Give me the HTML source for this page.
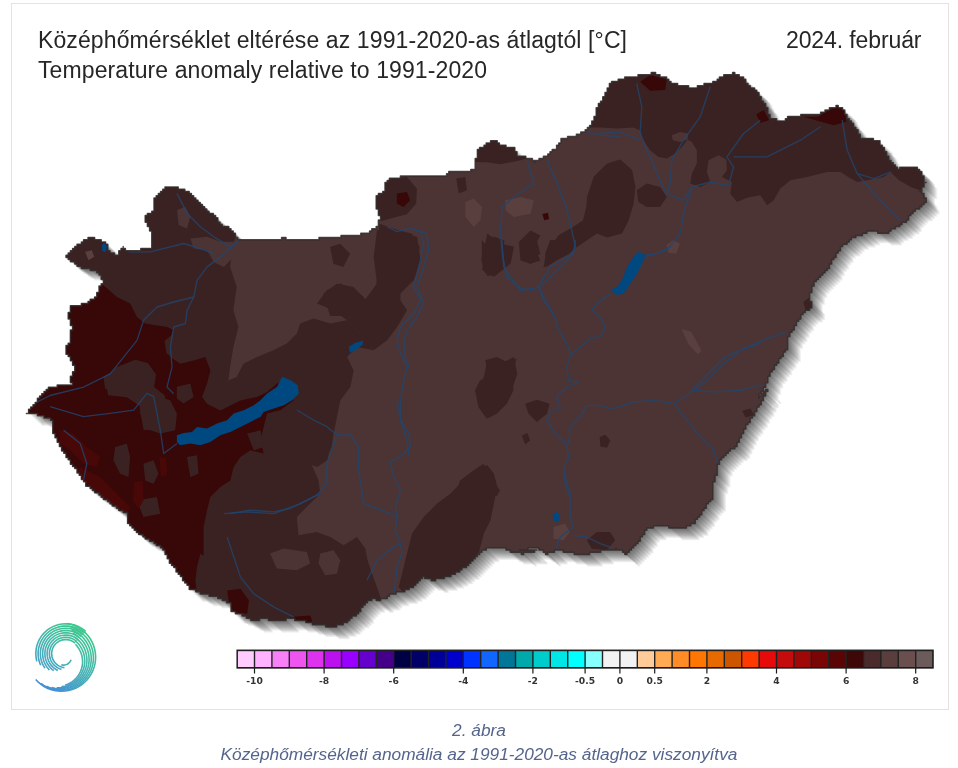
<!DOCTYPE html>
<html lang="hu"><head><meta charset="utf-8"><title>Középhőmérséklet eltérése</title>
<style>
html,body{margin:0;padding:0;background:#fff;}
body{width:958px;height:768px;overflow:hidden;position:relative;font-family:"Liberation Sans",sans-serif;}
#fig{position:absolute;left:11px;top:3px;width:936px;height:705px;border:1px solid #e3e3e3;}
svg{position:absolute;left:0;top:0;}
.t{font-family:"Liberation Sans",sans-serif;font-size:23px;fill:#262626;}
.lg{font-family:"DejaVu Sans",sans-serif;font-weight:bold;font-size:9.2px;fill:#333;text-anchor:middle;}
.cap{position:absolute;left:0;width:958px;text-align:center;font-style:italic;font-size:17.3px;color:#54648c;white-space:nowrap;}
</style></head><body>
<div id="fig"></div>
<svg width="958" height="768" viewBox="0 0 958 768">
<defs>
<linearGradient id="lgr" gradientUnits="userSpaceOnUse" x1="42" y1="692" x2="86" y2="624"><stop offset="0" stop-color="#4488dc"/><stop offset="0.3" stop-color="#46a4c4"/><stop offset="0.65" stop-color="#43bca4"/><stop offset="1" stop-color="#3ccc88"/></linearGradient>

<path id="hu" d="M66.0,257.4 L66.0,255.2 L68.2,255.2 L68.2,253.0 L70.4,253.0 L70.4,250.8 L72.6,250.8 L72.6,248.6 L74.8,248.6 L74.8,246.4 L77.0,246.4 L77.0,244.2 L79.2,244.2 L81.4,244.2 L81.4,242.0 L83.6,242.0 L83.6,239.8 L85.8,239.8 L88.0,239.8 L88.0,237.6 L90.2,237.6 L92.4,237.6 L94.6,237.6 L94.6,239.8 L96.8,239.8 L99.0,239.8 L101.2,239.8 L101.2,242.0 L103.4,242.0 L105.6,242.0 L105.6,244.2 L107.8,244.2 L107.8,246.4 L107.8,248.6 L107.8,250.8 L110.0,250.8 L110.0,253.0 L112.2,253.0 L114.4,253.0 L114.4,255.2 L116.6,255.2 L118.8,255.2 L118.8,253.0 L118.8,250.8 L121.0,250.8 L121.0,248.6 L123.2,248.6 L123.2,246.4 L123.2,248.6 L125.4,248.6 L125.4,250.8 L127.6,250.8 L129.8,250.8 L132.0,250.8 L134.2,250.8 L136.4,250.8 L138.6,250.8 L140.8,250.8 L140.8,248.6 L143.0,248.6 L145.2,248.6 L147.4,248.6 L149.6,248.6 L151.8,248.6 L151.8,246.4 L151.8,244.2 L151.8,242.0 L151.8,239.8 L151.8,237.6 L151.8,235.4 L151.8,233.2 L151.8,231.0 L149.6,231.0 L149.6,228.8 L149.6,226.6 L147.4,226.6 L147.4,224.4 L147.4,222.2 L145.2,222.2 L145.2,220.0 L145.2,217.8 L145.2,215.6 L147.4,215.6 L147.4,213.4 L149.6,213.4 L151.8,213.4 L151.8,211.2 L154.0,211.2 L154.0,209.0 L154.0,206.8 L154.0,204.6 L154.0,202.4 L154.0,200.2 L154.0,198.0 L156.2,198.0 L156.2,195.8 L158.4,195.8 L158.4,193.6 L160.6,193.6 L160.6,191.4 L162.8,191.4 L162.8,189.2 L165.0,189.2 L165.0,187.0 L167.2,187.0 L169.4,187.0 L171.6,187.0 L173.8,187.0 L176.0,187.0 L178.2,187.0 L178.2,189.2 L180.4,189.2 L182.6,189.2 L184.8,189.2 L184.8,191.4 L187.0,191.4 L189.2,191.4 L189.2,193.6 L191.4,193.6 L191.4,195.8 L193.6,195.8 L193.6,198.0 L195.8,198.0 L195.8,200.2 L198.0,200.2 L198.0,202.4 L200.2,202.4 L200.2,204.6 L202.4,204.6 L202.4,206.8 L204.6,206.8 L204.6,209.0 L206.8,209.0 L206.8,211.2 L209.0,211.2 L209.0,213.4 L211.2,213.4 L213.4,213.4 L213.4,215.6 L215.6,215.6 L215.6,217.8 L217.8,217.8 L217.8,220.0 L217.8,222.2 L220.0,222.2 L220.0,224.4 L222.2,224.4 L222.2,226.6 L224.4,226.6 L226.6,226.6 L228.8,226.6 L228.8,228.8 L231.0,228.8 L231.0,231.0 L233.2,231.0 L233.2,233.2 L235.4,233.2 L235.4,235.4 L235.4,237.6 L237.6,237.6 L237.6,239.8 L239.8,239.8 L242.0,239.8 L244.2,239.8 L246.4,239.8 L248.6,239.8 L250.8,239.8 L253.0,239.8 L255.2,239.8 L257.4,239.8 L259.6,239.8 L261.8,239.8 L264.0,239.8 L266.2,239.8 L268.4,239.8 L270.6,239.8 L272.8,239.8 L275.0,239.8 L277.2,239.8 L279.4,239.8 L281.6,239.8 L281.6,237.6 L283.8,237.6 L286.0,237.6 L286.0,239.8 L288.2,239.8 L290.4,239.8 L292.6,239.8 L294.8,239.8 L297.0,239.8 L299.2,239.8 L301.4,239.8 L303.6,239.8 L305.8,239.8 L308.0,239.8 L310.2,239.8 L312.4,239.8 L314.6,239.8 L316.8,239.8 L319.0,239.8 L319.0,237.6 L321.2,237.6 L323.4,237.6 L325.6,237.6 L327.8,237.6 L330.0,237.6 L332.2,237.6 L334.4,237.6 L336.6,237.6 L338.8,237.6 L341.0,237.6 L341.0,235.4 L343.2,235.4 L345.4,235.4 L347.6,235.4 L349.8,235.4 L352.0,235.4 L354.2,235.4 L356.4,235.4 L358.6,235.4 L360.8,235.4 L360.8,233.2 L363.0,233.2 L365.2,233.2 L367.4,233.2 L369.6,233.2 L369.6,231.0 L371.8,231.0 L371.8,228.8 L374.0,228.8 L376.2,228.8 L376.2,226.6 L378.4,226.6 L378.4,224.4 L378.4,222.2 L378.4,220.0 L380.6,220.0 L380.6,217.8 L380.6,215.6 L378.4,215.6 L378.4,213.4 L378.4,211.2 L378.4,209.0 L376.2,209.0 L376.2,206.8 L376.2,204.6 L376.2,202.4 L376.2,200.2 L376.2,198.0 L376.2,195.8 L378.4,195.8 L378.4,193.6 L380.6,193.6 L382.8,193.6 L382.8,191.4 L385.0,191.4 L385.0,189.2 L385.0,187.0 L385.0,184.8 L385.0,182.6 L387.2,182.6 L387.2,180.4 L389.4,180.4 L389.4,178.2 L391.6,178.2 L393.8,178.2 L396.0,178.2 L398.2,178.2 L400.4,178.2 L400.4,176.0 L402.6,176.0 L404.8,176.0 L407.0,176.0 L409.2,176.0 L411.4,176.0 L413.6,176.0 L415.8,176.0 L418.0,176.0 L420.2,176.0 L422.4,176.0 L424.6,176.0 L426.8,176.0 L429.0,176.0 L431.2,176.0 L433.4,176.0 L435.6,176.0 L437.8,176.0 L440.0,176.0 L442.2,176.0 L444.4,176.0 L446.6,176.0 L446.6,173.8 L448.8,173.8 L448.8,171.6 L451.0,171.6 L453.2,171.6 L455.4,171.6 L457.6,171.6 L459.8,171.6 L462.0,171.6 L464.2,171.6 L466.4,171.6 L468.6,171.6 L470.8,171.6 L470.8,169.4 L473.0,169.4 L475.2,169.4 L475.2,167.2 L475.2,165.0 L475.2,162.8 L475.2,160.6 L475.2,158.4 L477.4,158.4 L477.4,156.2 L477.4,154.0 L477.4,151.8 L477.4,149.6 L479.6,149.6 L479.6,147.4 L481.8,147.4 L484.0,147.4 L484.0,145.2 L486.2,145.2 L486.2,143.0 L488.4,143.0 L490.6,143.0 L490.6,140.8 L492.8,140.8 L495.0,140.8 L497.2,140.8 L497.2,143.0 L499.4,143.0 L499.4,145.2 L501.6,145.2 L503.8,145.2 L506.0,145.2 L506.0,147.4 L508.2,147.4 L510.4,147.4 L512.6,147.4 L514.8,147.4 L514.8,149.6 L514.8,151.8 L517.0,151.8 L517.0,154.0 L517.0,156.2 L519.2,156.2 L521.4,156.2 L523.6,156.2 L525.8,156.2 L525.8,158.4 L528.0,158.4 L530.2,158.4 L532.4,158.4 L532.4,160.6 L534.6,160.6 L534.6,162.8 L534.6,160.6 L536.8,160.6 L539.0,160.6 L539.0,158.4 L541.2,158.4 L543.4,158.4 L543.4,156.2 L545.6,156.2 L547.8,156.2 L547.8,154.0 L550.0,154.0 L550.0,151.8 L552.2,151.8 L552.2,149.6 L554.4,149.6 L556.6,149.6 L556.6,147.4 L556.6,145.2 L558.8,145.2 L558.8,143.0 L561.0,143.0 L561.0,140.8 L561.0,138.6 L563.2,138.6 L565.4,138.6 L567.6,138.6 L567.6,136.4 L569.8,136.4 L572.0,136.4 L574.2,136.4 L576.4,136.4 L576.4,134.2 L578.6,134.2 L580.8,134.2 L580.8,132.0 L583.0,132.0 L585.2,132.0 L585.2,129.8 L587.4,129.8 L587.4,127.6 L589.6,127.6 L589.6,125.4 L591.8,125.4 L591.8,123.2 L591.8,121.0 L594.0,121.0 L594.0,118.8 L594.0,116.6 L596.2,116.6 L596.2,114.4 L596.2,112.2 L596.2,110.0 L596.2,107.8 L598.4,107.8 L598.4,105.6 L598.4,103.4 L600.6,103.4 L600.6,101.2 L602.8,101.2 L602.8,99.0 L602.8,96.8 L605.0,96.8 L605.0,94.6 L605.0,92.4 L607.2,92.4 L607.2,90.2 L607.2,88.0 L609.4,88.0 L609.4,85.8 L609.4,83.6 L611.6,83.6 L609.4,83.6 L609.4,85.8 L609.4,88.0 L607.2,88.0 L607.2,90.2 L607.2,88.0 L609.4,88.0 L609.4,85.8 L609.4,83.6 L611.6,83.6 L611.6,81.4 L613.8,81.4 L616.0,81.4 L618.2,81.4 L618.2,79.2 L620.4,79.2 L622.6,79.2 L624.8,79.2 L624.8,77.0 L627.0,77.0 L629.2,77.0 L631.4,77.0 L633.6,77.0 L635.8,77.0 L638.0,77.0 L638.0,74.8 L640.2,74.8 L642.4,74.8 L644.6,74.8 L646.8,74.8 L649.0,74.8 L651.2,74.8 L651.2,72.6 L653.4,72.6 L655.6,72.6 L655.6,74.8 L657.8,74.8 L660.0,74.8 L660.0,77.0 L662.2,77.0 L664.4,77.0 L666.6,77.0 L666.6,79.2 L668.8,79.2 L668.8,81.4 L671.0,81.4 L671.0,83.6 L673.2,83.6 L675.4,83.6 L677.6,83.6 L677.6,85.8 L679.8,85.8 L682.0,85.8 L684.2,85.8 L686.4,85.8 L688.6,85.8 L688.6,88.0 L690.8,88.0 L693.0,88.0 L695.2,88.0 L697.4,88.0 L697.4,85.8 L699.6,85.8 L701.8,85.8 L704.0,85.8 L704.0,83.6 L706.2,83.6 L708.4,83.6 L710.6,83.6 L712.8,83.6 L712.8,81.4 L715.0,81.4 L717.2,81.4 L717.2,79.2 L719.4,79.2 L719.4,77.0 L721.6,77.0 L723.8,77.0 L723.8,74.8 L726.0,74.8 L728.2,74.8 L730.4,74.8 L732.6,74.8 L732.6,72.6 L734.8,72.6 L734.8,74.8 L737.0,74.8 L739.2,74.8 L739.2,77.0 L741.4,77.0 L743.6,77.0 L743.6,79.2 L745.8,79.2 L745.8,81.4 L745.8,83.6 L748.0,83.6 L748.0,85.8 L750.2,85.8 L750.2,88.0 L752.4,88.0 L754.6,88.0 L754.6,90.2 L756.8,90.2 L756.8,92.4 L759.0,92.4 L759.0,94.6 L759.0,96.8 L761.2,96.8 L761.2,99.0 L761.2,101.2 L763.4,101.2 L763.4,103.4 L765.6,103.4 L765.6,105.6 L765.6,107.8 L767.8,107.8 L767.8,110.0 L767.8,112.2 L767.8,114.4 L770.0,114.4 L770.0,116.6 L770.0,118.8 L772.2,118.8 L774.4,118.8 L776.6,118.8 L776.6,121.0 L778.8,121.0 L781.0,121.0 L783.2,121.0 L785.4,121.0 L785.4,118.8 L787.6,118.8 L787.6,116.6 L789.8,116.6 L792.0,116.6 L794.2,116.6 L796.4,116.6 L798.6,116.6 L800.8,116.6 L800.8,114.4 L803.0,114.4 L805.2,114.4 L807.4,114.4 L809.6,114.4 L811.8,114.4 L814.0,114.4 L816.2,114.4 L818.4,114.4 L820.6,114.4 L820.6,112.2 L822.8,112.2 L825.0,112.2 L825.0,110.0 L827.2,110.0 L829.4,110.0 L829.4,107.8 L831.6,107.8 L833.8,107.8 L836.0,107.8 L836.0,105.6 L838.2,105.6 L838.2,107.8 L840.4,107.8 L842.6,107.8 L842.6,110.0 L844.8,110.0 L844.8,112.2 L844.8,114.4 L847.0,114.4 L847.0,116.6 L847.0,118.8 L849.2,118.8 L849.2,121.0 L851.4,121.0 L851.4,123.2 L853.6,123.2 L853.6,125.4 L853.6,127.6 L855.8,127.6 L855.8,129.8 L858.0,129.8 L858.0,132.0 L858.0,134.2 L860.2,134.2 L860.2,136.4 L860.2,138.6 L862.4,138.6 L864.6,138.6 L866.8,138.6 L869.0,138.6 L871.2,138.6 L873.4,138.6 L873.4,140.8 L875.6,140.8 L877.8,140.8 L880.0,140.8 L880.0,143.0 L880.0,145.2 L882.2,145.2 L882.2,147.4 L884.4,147.4 L884.4,149.6 L884.4,151.8 L886.6,151.8 L886.6,154.0 L886.6,156.2 L888.8,156.2 L888.8,158.4 L888.8,160.6 L891.0,160.6 L891.0,162.8 L893.2,162.8 L893.2,165.0 L895.4,165.0 L895.4,167.2 L897.6,167.2 L897.6,169.4 L899.8,169.4 L899.8,167.2 L902.0,167.2 L904.2,167.2 L906.4,167.2 L908.6,167.2 L910.8,167.2 L913.0,167.2 L915.2,167.2 L917.4,167.2 L917.4,169.4 L919.6,169.4 L919.6,171.6 L921.8,171.6 L921.8,173.8 L921.8,176.0 L924.0,176.0 L924.0,178.2 L924.0,180.4 L924.0,182.6 L926.2,182.6 L924.0,182.6 L924.0,184.8 L924.0,187.0 L921.8,187.0 L921.8,189.2 L921.8,191.4 L919.6,191.4 L921.8,191.4 L921.8,193.6 L924.0,193.6 L924.0,195.8 L924.0,198.0 L926.2,198.0 L926.2,200.2 L926.2,202.4 L924.0,202.4 L924.0,204.6 L921.8,204.6 L921.8,206.8 L919.6,206.8 L919.6,209.0 L917.4,209.0 L915.2,209.0 L915.2,211.2 L913.0,211.2 L913.0,213.4 L910.8,213.4 L910.8,215.6 L908.6,215.6 L908.6,217.8 L908.6,220.0 L906.4,220.0 L906.4,222.2 L904.2,222.2 L902.0,222.2 L902.0,224.4 L899.8,224.4 L899.8,226.6 L897.6,226.6 L895.4,226.6 L895.4,228.8 L893.2,228.8 L891.0,228.8 L891.0,231.0 L888.8,231.0 L888.8,233.2 L886.6,233.2 L884.4,233.2 L882.2,233.2 L880.0,233.2 L877.8,233.2 L877.8,231.0 L875.6,231.0 L873.4,231.0 L871.2,231.0 L869.0,231.0 L866.8,231.0 L866.8,233.2 L864.6,233.2 L862.4,233.2 L862.4,235.4 L860.2,235.4 L858.0,235.4 L855.8,235.4 L855.8,237.6 L853.6,237.6 L851.4,237.6 L851.4,239.8 L849.2,239.8 L849.2,242.0 L847.0,242.0 L847.0,244.2 L844.8,244.2 L842.6,244.2 L842.6,246.4 L840.4,246.4 L840.4,248.6 L840.4,250.8 L838.2,250.8 L838.2,253.0 L836.0,253.0 L836.0,255.2 L836.0,257.4 L833.8,257.4 L833.8,259.6 L831.6,259.6 L831.6,261.8 L831.6,264.0 L829.4,264.0 L829.4,266.2 L829.4,268.4 L827.2,268.4 L827.2,270.6 L825.0,270.6 L825.0,272.8 L822.8,272.8 L822.8,275.0 L820.6,275.0 L820.6,277.2 L818.4,277.2 L818.4,279.4 L816.2,279.4 L816.2,281.6 L814.0,281.6 L814.0,283.8 L814.0,286.0 L811.8,286.0 L811.8,288.2 L811.8,290.4 L811.8,292.6 L809.6,292.6 L809.6,294.8 L809.6,297.0 L809.6,299.2 L809.6,301.4 L811.8,301.4 L811.8,303.6 L811.8,305.8 L811.8,308.0 L809.6,308.0 L809.6,310.2 L807.4,310.2 L805.2,310.2 L805.2,312.4 L803.0,312.4 L803.0,314.6 L800.8,314.6 L800.8,316.8 L800.8,319.0 L798.6,319.0 L798.6,321.2 L796.4,321.2 L796.4,323.4 L796.4,325.6 L794.2,325.6 L794.2,327.8 L794.2,330.0 L792.0,330.0 L792.0,332.2 L789.8,332.2 L789.8,334.4 L789.8,336.6 L787.6,336.6 L787.6,338.8 L787.6,341.0 L787.6,343.2 L787.6,345.4 L787.6,347.6 L787.6,349.8 L785.4,349.8 L785.4,352.0 L783.2,352.0 L783.2,354.2 L783.2,356.4 L781.0,356.4 L781.0,358.6 L778.8,358.6 L778.8,360.8 L778.8,363.0 L776.6,363.0 L776.6,365.2 L774.4,365.2 L774.4,367.4 L774.4,369.6 L772.2,369.6 L772.2,371.8 L770.0,371.8 L770.0,374.0 L770.0,376.2 L767.8,376.2 L767.8,378.4 L767.8,380.6 L767.8,382.8 L765.6,382.8 L765.6,385.0 L765.6,387.2 L763.4,387.2 L763.4,389.4 L763.4,391.6 L761.2,391.6 L761.2,393.8 L759.0,393.8 L759.0,396.0 L759.0,398.2 L759.0,396.0 L761.2,396.0 L761.2,393.8 L763.4,393.8 L763.4,391.6 L765.6,391.6 L765.6,389.4 L767.8,389.4 L767.8,391.6 L765.6,391.6 L765.6,393.8 L765.6,396.0 L763.4,396.0 L763.4,398.2 L763.4,400.4 L761.2,400.4 L761.2,402.6 L761.2,404.8 L759.0,404.8 L759.0,407.0 L756.8,407.0 L756.8,409.2 L756.8,411.4 L754.6,411.4 L754.6,413.6 L754.6,415.8 L752.4,415.8 L752.4,418.0 L750.2,418.0 L750.2,420.2 L750.2,422.4 L748.0,422.4 L748.0,424.6 L745.8,424.6 L745.8,426.8 L745.8,429.0 L743.6,429.0 L743.6,431.2 L743.6,433.4 L741.4,433.4 L741.4,435.6 L741.4,437.8 L739.2,437.8 L739.2,440.0 L739.2,442.2 L737.0,442.2 L737.0,444.4 L737.0,446.6 L734.8,446.6 L734.8,448.8 L732.6,448.8 L730.4,448.8 L730.4,451.0 L728.2,451.0 L728.2,453.2 L726.0,453.2 L726.0,455.4 L723.8,455.4 L723.8,457.6 L721.6,457.6 L721.6,459.8 L719.4,459.8 L719.4,462.0 L719.4,464.2 L717.2,464.2 L717.2,466.4 L717.2,468.6 L717.2,470.8 L717.2,473.0 L717.2,475.2 L715.0,475.2 L715.0,477.4 L715.0,479.6 L715.0,481.8 L712.8,481.8 L712.8,484.0 L712.8,486.2 L712.8,488.4 L712.8,490.6 L712.8,492.8 L712.8,495.0 L712.8,497.2 L712.8,499.4 L710.6,499.4 L710.6,501.6 L708.4,501.6 L708.4,503.8 L706.2,503.8 L706.2,506.0 L706.2,508.2 L704.0,508.2 L704.0,510.4 L701.8,510.4 L701.8,512.6 L701.8,514.8 L699.6,514.8 L699.6,517.0 L697.4,517.0 L697.4,519.2 L695.2,519.2 L695.2,521.4 L695.2,523.6 L693.0,523.6 L690.8,523.6 L690.8,525.8 L688.6,525.8 L686.4,525.8 L686.4,528.0 L684.2,528.0 L682.0,528.0 L679.8,528.0 L677.6,528.0 L675.4,528.0 L673.2,528.0 L671.0,528.0 L668.8,528.0 L668.8,525.8 L666.6,525.8 L664.4,525.8 L662.2,525.8 L660.0,525.8 L657.8,525.8 L655.6,525.8 L653.4,525.8 L653.4,528.0 L651.2,528.0 L649.0,528.0 L646.8,528.0 L646.8,530.2 L644.6,530.2 L644.6,532.4 L644.6,534.6 L642.4,534.6 L642.4,536.8 L640.2,536.8 L640.2,539.0 L640.2,541.2 L638.0,541.2 L638.0,543.4 L635.8,543.4 L635.8,545.6 L633.6,545.6 L633.6,547.8 L631.4,547.8 L631.4,550.0 L629.2,550.0 L629.2,552.2 L627.0,552.2 L627.0,554.4 L624.8,554.4 L624.8,552.2 L622.6,552.2 L622.6,550.0 L620.4,550.0 L618.2,550.0 L616.0,550.0 L616.0,547.8 L616.0,550.0 L613.8,550.0 L611.6,550.0 L609.4,550.0 L607.2,550.0 L605.0,550.0 L602.8,550.0 L600.6,550.0 L600.6,552.2 L598.4,552.2 L596.2,552.2 L594.0,552.2 L591.8,552.2 L589.6,552.2 L589.6,554.4 L587.4,554.4 L585.2,554.4 L583.0,554.4 L580.8,554.4 L578.6,554.4 L576.4,554.4 L574.2,554.4 L574.2,552.2 L572.0,552.2 L569.8,552.2 L567.6,552.2 L565.4,552.2 L563.2,552.2 L563.2,550.0 L561.0,550.0 L558.8,550.0 L556.6,550.0 L554.4,550.0 L554.4,552.2 L552.2,552.2 L550.0,552.2 L547.8,552.2 L547.8,554.4 L545.6,554.4 L545.6,552.2 L543.4,552.2 L543.4,550.0 L541.2,550.0 L539.0,550.0 L539.0,547.8 L536.8,547.8 L534.6,547.8 L532.4,547.8 L530.2,547.8 L528.0,547.8 L528.0,550.0 L525.8,550.0 L523.6,550.0 L521.4,550.0 L519.2,550.0 L521.4,550.0 L523.6,550.0 L525.8,550.0 L528.0,550.0 L530.2,550.0 L532.4,550.0 L534.6,550.0 L536.8,550.0 L534.6,550.0 L534.6,552.2 L532.4,552.2 L530.2,552.2 L528.0,552.2 L525.8,552.2 L523.6,552.2 L523.6,554.4 L521.4,554.4 L521.4,552.2 L519.2,552.2 L517.0,552.2 L514.8,552.2 L512.6,552.2 L510.4,552.2 L510.4,550.0 L508.2,550.0 L506.0,550.0 L506.0,547.8 L503.8,547.8 L501.6,547.8 L499.4,547.8 L497.2,547.8 L495.0,547.8 L492.8,547.8 L490.6,547.8 L488.4,547.8 L486.2,547.8 L486.2,550.0 L484.0,550.0 L481.8,550.0 L481.8,552.2 L479.6,552.2 L479.6,554.4 L477.4,554.4 L477.4,556.6 L475.2,556.6 L475.2,558.8 L473.0,558.8 L473.0,561.0 L470.8,561.0 L470.8,563.2 L468.6,563.2 L468.6,565.4 L466.4,565.4 L466.4,567.6 L464.2,567.6 L462.0,567.6 L462.0,569.8 L459.8,569.8 L459.8,572.0 L457.6,572.0 L455.4,572.0 L455.4,574.2 L453.2,574.2 L451.0,574.2 L451.0,576.4 L448.8,576.4 L446.6,576.4 L444.4,576.4 L444.4,578.6 L442.2,578.6 L440.0,578.6 L437.8,578.6 L435.6,578.6 L435.6,580.8 L433.4,580.8 L431.2,580.8 L431.2,578.6 L429.0,578.6 L426.8,578.6 L424.6,578.6 L424.6,576.4 L422.4,576.4 L422.4,578.6 L420.2,578.6 L420.2,580.8 L418.0,580.8 L418.0,583.0 L415.8,583.0 L415.8,585.2 L413.6,585.2 L413.6,587.4 L411.4,587.4 L409.2,587.4 L409.2,589.6 L407.0,589.6 L404.8,589.6 L404.8,591.8 L402.6,591.8 L400.4,591.8 L398.2,591.8 L396.0,591.8 L396.0,594.0 L393.8,594.0 L391.6,594.0 L389.4,594.0 L389.4,596.2 L387.2,596.2 L387.2,598.4 L385.0,598.4 L382.8,598.4 L380.6,598.4 L380.6,600.6 L378.4,600.6 L376.2,600.6 L376.2,598.4 L374.0,598.4 L371.8,598.4 L371.8,600.6 L369.6,600.6 L367.4,600.6 L367.4,602.8 L365.2,602.8 L365.2,605.0 L363.0,605.0 L363.0,607.2 L360.8,607.2 L360.8,609.4 L360.8,611.6 L358.6,611.6 L358.6,613.8 L356.4,613.8 L356.4,616.0 L354.2,616.0 L352.0,616.0 L352.0,618.2 L349.8,618.2 L349.8,620.4 L347.6,620.4 L347.6,622.6 L345.4,622.6 L343.2,622.6 L343.2,624.8 L341.0,624.8 L338.8,624.8 L336.6,624.8 L336.6,627.0 L334.4,627.0 L332.2,627.0 L330.0,627.0 L327.8,627.0 L325.6,627.0 L325.6,624.8 L323.4,624.8 L321.2,624.8 L319.0,624.8 L316.8,624.8 L314.6,624.8 L312.4,624.8 L312.4,622.6 L310.2,622.6 L308.0,622.6 L305.8,622.6 L305.8,620.4 L303.6,620.4 L301.4,620.4 L299.2,620.4 L297.0,620.4 L294.8,620.4 L294.8,618.2 L292.6,618.2 L290.4,618.2 L288.2,618.2 L286.0,618.2 L286.0,620.4 L283.8,620.4 L281.6,620.4 L279.4,620.4 L277.2,620.4 L275.0,620.4 L272.8,620.4 L270.6,620.4 L268.4,620.4 L268.4,618.2 L266.2,618.2 L264.0,618.2 L261.8,618.2 L259.6,618.2 L259.6,620.4 L257.4,620.4 L255.2,620.4 L253.0,620.4 L250.8,620.4 L250.8,618.2 L248.6,618.2 L246.4,618.2 L246.4,616.0 L244.2,616.0 L242.0,616.0 L242.0,613.8 L239.8,613.8 L237.6,613.8 L235.4,613.8 L235.4,611.6 L233.2,611.6 L231.0,611.6 L231.0,609.4 L231.0,607.2 L231.0,605.0 L231.0,602.8 L228.8,602.8 L226.6,602.8 L226.6,600.6 L224.4,600.6 L222.2,600.6 L222.2,598.4 L220.0,598.4 L217.8,598.4 L217.8,596.2 L215.6,596.2 L213.4,596.2 L211.2,596.2 L209.0,596.2 L209.0,594.0 L206.8,594.0 L204.6,594.0 L202.4,594.0 L200.2,594.0 L200.2,591.8 L198.0,591.8 L195.8,591.8 L195.8,589.6 L193.6,589.6 L191.4,589.6 L189.2,589.6 L189.2,587.4 L189.2,585.2 L187.0,585.2 L187.0,583.0 L184.8,583.0 L184.8,580.8 L182.6,580.8 L182.6,578.6 L182.6,576.4 L180.4,576.4 L180.4,574.2 L178.2,574.2 L178.2,572.0 L176.0,572.0 L176.0,569.8 L176.0,567.6 L173.8,567.6 L173.8,565.4 L171.6,565.4 L171.6,563.2 L169.4,563.2 L169.4,561.0 L169.4,558.8 L167.2,558.8 L167.2,556.6 L167.2,554.4 L165.0,554.4 L165.0,552.2 L165.0,550.0 L162.8,550.0 L162.8,547.8 L160.6,547.8 L160.6,545.6 L158.4,545.6 L156.2,545.6 L156.2,543.4 L154.0,543.4 L154.0,541.2 L151.8,541.2 L149.6,541.2 L149.6,539.0 L147.4,539.0 L145.2,539.0 L145.2,536.8 L143.0,536.8 L143.0,534.6 L140.8,534.6 L138.6,534.6 L138.6,532.4 L136.4,532.4 L136.4,530.2 L134.2,530.2 L134.2,528.0 L132.0,528.0 L132.0,525.8 L129.8,525.8 L129.8,523.6 L127.6,523.6 L127.6,521.4 L127.6,519.2 L127.6,517.0 L127.6,514.8 L127.6,512.6 L125.4,512.6 L123.2,512.6 L123.2,510.4 L121.0,510.4 L118.8,510.4 L118.8,508.2 L116.6,508.2 L116.6,506.0 L114.4,506.0 L112.2,506.0 L112.2,503.8 L110.0,503.8 L110.0,501.6 L107.8,501.6 L107.8,499.4 L105.6,499.4 L103.4,499.4 L103.4,497.2 L101.2,497.2 L101.2,495.0 L99.0,495.0 L99.0,492.8 L96.8,492.8 L94.6,492.8 L94.6,490.6 L92.4,490.6 L92.4,488.4 L90.2,488.4 L90.2,486.2 L88.0,486.2 L85.8,486.2 L85.8,484.0 L85.8,481.8 L83.6,481.8 L83.6,479.6 L81.4,479.6 L81.4,477.4 L81.4,475.2 L79.2,475.2 L79.2,473.0 L77.0,473.0 L77.0,470.8 L77.0,468.6 L74.8,468.6 L74.8,466.4 L72.6,466.4 L72.6,464.2 L70.4,464.2 L70.4,462.0 L70.4,459.8 L68.2,459.8 L68.2,457.6 L66.0,457.6 L66.0,455.4 L66.0,453.2 L63.8,453.2 L63.8,451.0 L61.6,451.0 L61.6,448.8 L61.6,446.6 L59.4,446.6 L59.4,444.4 L59.4,442.2 L57.2,442.2 L57.2,440.0 L57.2,437.8 L55.0,437.8 L55.0,435.6 L55.0,433.4 L52.8,433.4 L52.8,431.2 L52.8,429.0 L52.8,426.8 L52.8,424.6 L52.8,422.4 L52.8,420.2 L50.6,420.2 L50.6,418.0 L48.4,418.0 L46.2,418.0 L44.0,418.0 L44.0,415.8 L41.8,415.8 L39.6,415.8 L37.4,415.8 L37.4,413.6 L35.2,413.6 L33.0,413.6 L30.8,413.6 L28.6,413.6 L26.4,413.6 L28.6,413.6 L28.6,411.4 L28.6,409.2 L30.8,409.2 L30.8,407.0 L33.0,407.0 L33.0,404.8 L35.2,404.8 L35.2,402.6 L37.4,402.6 L37.4,400.4 L37.4,398.2 L39.6,398.2 L39.6,396.0 L41.8,396.0 L41.8,393.8 L44.0,393.8 L44.0,391.6 L46.2,391.6 L46.2,389.4 L48.4,389.4 L48.4,387.2 L50.6,387.2 L52.8,387.2 L55.0,387.2 L57.2,387.2 L57.2,385.0 L59.4,385.0 L61.6,385.0 L63.8,385.0 L66.0,385.0 L68.2,385.0 L70.4,385.0 L72.6,385.0 L72.6,382.8 L70.4,382.8 L70.4,380.6 L70.4,378.4 L70.4,376.2 L72.6,376.2 L72.6,374.0 L72.6,371.8 L74.8,371.8 L74.8,369.6 L74.8,367.4 L74.8,365.2 L72.6,365.2 L72.6,363.0 L72.6,360.8 L70.4,360.8 L70.4,358.6 L70.4,356.4 L68.2,356.4 L68.2,354.2 L66.0,354.2 L66.0,352.0 L66.0,349.8 L66.0,347.6 L66.0,345.4 L68.2,345.4 L68.2,343.2 L70.4,343.2 L70.4,341.0 L70.4,338.8 L70.4,336.6 L70.4,334.4 L70.4,332.2 L70.4,330.0 L72.6,330.0 L72.6,327.8 L72.6,325.6 L70.4,325.6 L70.4,323.4 L70.4,321.2 L70.4,319.0 L68.2,319.0 L68.2,316.8 L68.2,314.6 L68.2,312.4 L70.4,312.4 L70.4,310.2 L70.4,308.0 L70.4,305.8 L72.6,305.8 L74.8,305.8 L77.0,305.8 L79.2,305.8 L81.4,305.8 L81.4,303.6 L83.6,303.6 L85.8,303.6 L88.0,303.6 L88.0,301.4 L90.2,301.4 L90.2,299.2 L92.4,299.2 L94.6,299.2 L94.6,297.0 L96.8,297.0 L96.8,294.8 L96.8,292.6 L99.0,292.6 L99.0,290.4 L99.0,288.2 L99.0,286.0 L101.2,286.0 L101.2,283.8 L103.4,283.8 L103.4,281.6 L103.4,279.4 L101.2,279.4 L101.2,277.2 L101.2,275.0 L99.0,275.0 L99.0,272.8 L96.8,272.8 L96.8,270.6 L94.6,270.6 L92.4,270.6 L90.2,270.6 L90.2,268.4 L88.0,268.4 L85.8,268.4 L83.6,268.4 L81.4,268.4 L81.4,266.2 L79.2,266.2 L77.0,266.2 L77.0,264.0 L74.8,264.0 L74.8,261.8 L72.6,261.8 L70.4,261.8 L70.4,259.6 L68.2,259.6 L68.2,257.4 L66.0,257.4Z"/>
<clipPath id="cp"><use href="#hu"/></clipPath>
</defs>
<g fill="#000" fill-opacity="0.055">
<use href="#hu" transform="translate(0.95,0.88)"/>
<use href="#hu" transform="translate(1.90,1.76)"/>
<use href="#hu" transform="translate(2.85,2.64)"/>
<use href="#hu" transform="translate(3.80,3.52)"/>
<use href="#hu" transform="translate(4.75,4.40)"/>
<use href="#hu" transform="translate(5.70,5.28)"/>
<use href="#hu" transform="translate(6.65,6.16)"/>
<use href="#hu" transform="translate(7.60,7.04)"/>
<use href="#hu" transform="translate(8.55,7.92)"/>
<use href="#hu" transform="translate(9.50,8.80)"/>
<use href="#hu" transform="translate(10.45,9.68)"/>
<use href="#hu" transform="translate(11.40,10.56)"/>
<use href="#hu" transform="translate(12.35,11.44)"/>
<use href="#hu" transform="translate(13.30,12.32)"/>
</g>
<use href="#hu" fill="#4c3434"/>
<g clip-path="url(#cp)">
<path d="M0.0,150.0 L236.7,150.0 L236.7,233.4 L233.4,243.4 L230.1,266.8 L236.7,286.8 L233.4,310.2 L238.4,326.9 L233.4,347.0 L230.1,367.0 L228.4,380.4 L236.7,377.0 L243.4,363.7 L256.8,357.0 L273.5,350.3 L286.8,343.6 L296.9,333.6 L300.2,323.6 L313.6,318.6 L330.3,323.6 L347.0,320.3 L360.3,333.6 L373.7,350.3 L357.0,347.0 L347.0,357.0 L353.7,370.4 L350.3,387.1 L340.3,400.4 L337.0,417.1 L333.6,433.8 L330.3,455.9 L330.6,447.0 L327.2,460.3 L317.2,467.0 L311.8,465.1 L318.5,480.1 L320.2,493.5 L310.2,503.5 L296.8,516.9 L298.5,535.2 L316.8,531.9 L330.2,536.9 L343.6,545.3 L356.9,536.9 L365.3,548.6 L367.6,560.3 L372.0,573.7 L377.0,587.0 L382.0,602.0 L370.3,653.8 L230.0,653.8 L0.0,650.0Z" fill="#3b2222"/>
<path d="M316.9,303.5 L326.9,290.2 L340.3,283.5 L353.7,290.2 L363.7,296.9 L357.0,310.2 L347.0,320.3 L333.6,310.2Z" fill="#3b2222"/>
<path d="M377.0,230.1 L400.4,233.4 L417.1,236.7 L420.5,260.1 L413.8,280.2 L400.4,293.5 L400.4,300.2 L407.1,310.2 L397.1,326.9 L387.1,340.3 L373.7,350.3 L360.3,333.6 L347.0,320.3 L357.0,310.2 L367.0,296.9 L377.0,283.5 L373.7,256.8Z" fill="#3b2222"/>
<path d="M487.3,233.4 L500.6,243.4 L514.0,246.8 L510.6,263.5 L493.9,276.8 L482.3,270.1 L483.9,250.1Z" fill="#3b2222"/>
<path d="M487.3,360.3 L500.6,363.7 L514.0,357.0 L517.3,373.7 L510.6,393.7 L500.6,407.1 L490.6,417.1 L480.6,407.1 L475.6,390.4 L483.9,377.0Z" fill="#3b2222"/>
<path d="M376.8,193.6 L386.2,178.6 L406.9,176.9 L416.9,188.6 L416.2,203.6 L406.9,214.3 L393.5,217.7 L381.2,221.0 L375.2,207.0Z" fill="#3b2222"/>
<path d="M379.5,223.7 L396.9,229.7 L411.9,233.7 L419.6,247.1 L417.6,263.8 L410.9,277.1 L400.2,290.5 L390.2,301.2 L380.2,307.8 L374.2,293.8 L378.5,273.8 L383.5,257.1 L377.8,243.7Z" fill="#3b2222"/>
<path d="M473.7,161.9 L475.4,148.5 L493.7,136.8 L514.4,146.2 L532.2,156.9 L517.1,160.9 L500.4,164.2 L487.1,162.2Z" fill="#3b2222"/>
<path d="M483.0,247.1 L493.7,236.4 L504.4,240.4 L502.4,260.4 L497.1,274.4 L487.1,276.1 L481.4,260.4Z" fill="#3b2222"/>
<path d="M518.8,242.0 L530.5,230.4 L540.5,235.4 L533.8,247.1 L540.5,260.4 L530.5,263.8 L520.5,260.4Z" fill="#3b2222"/>
<path d="M323.4,293.8 L336.7,283.8 L353.4,287.1 L366.8,300.5 L360.1,315.9 L330.1,315.9Z" fill="#3b2222"/>
<path d="M330.1,247.1 L340.1,243.7 L350.1,253.7 L343.4,267.1 L333.4,263.8Z" fill="#3b2222"/>
<path d="M456.3,178.6 L465.3,176.9 L467.0,190.3 L458.7,193.6Z" fill="#3b2222"/>
<path d="M580.0,127.5 L600.0,127.5 L616.7,128.5 L633.4,127.5 L640.1,130.2 L643.4,140.2 L650.1,150.2 L658.5,156.9 L666.8,158.6 L675.2,153.6 L681.8,146.9 L687.5,139.5 L691.9,141.9 L696.9,150.2 L696.9,163.6 L691.9,173.6 L690.2,183.6 L700.2,187.0 L710.2,182.0 L706.9,171.9 L708.6,160.3 L718.6,155.2 L726.3,159.6 L726.9,170.3 L721.9,177.0 L731.9,182.0 L730.3,193.7 L737.0,202.0 L747.0,197.7 L760.3,195.3 L767.0,205.3 L773.7,200.3 L780.4,188.6 L790.4,180.3 L807.1,177.0 L827.1,171.9 L840.5,171.9 L848.9,177.6 L857.2,182.0 L867.2,180.3 L883.9,177.0 L890.6,171.9 L899.0,180.3 L910.6,187.0 L920.0,190.3 L934.0,187.0 L934.0,40.0 L580.0,40.0Z" fill="#3b2222"/>
<path d="M636.7,190.3 L646.8,183.6 L660.1,187.0 L666.8,197.0 L660.1,207.0 L646.8,207.0 L638.4,202.0Z" fill="#3b2222"/>
<path d="M485.1,360.3 L496.8,356.9 L506.8,361.9 L516.8,358.6 L511.8,373.6 L513.5,390.3 L506.8,403.7 L496.8,413.7 L486.8,418.7 L478.4,407.0 L475.1,390.3 L480.1,380.3 L490.1,377.0Z" fill="#3b2222"/>
<path d="M525.2,403.7 L536.9,399.7 L549.6,403.7 L546.9,413.7 L536.9,422.0 L528.5,413.7Z" fill="#3b2222"/>
<path d="M599.7,437.1 L605.3,434.7 L610.4,440.4 L607.0,447.8 L600.3,446.4Z" fill="#3b2222"/>
<path d="M521.8,435.4 L527.5,433.1 L530.2,440.4 L525.2,444.4Z" fill="#3b2222"/>
<path d="M460.0,480.5 L473.4,470.5 L483.4,463.8 L493.4,480.5 L500.1,490.5 L496.8,495.9 L455.0,495.9Z" fill="#3b2222"/>
<path d="M481.8,240.0 L490.1,250.0 L493.4,266.7 L485.1,273.4 L481.8,260.0Z" fill="#3b2222"/>
<path d="M520.2,240.0 L536.9,240.0 L540.2,253.4 L530.2,263.4 L521.8,256.7Z" fill="#3b2222"/>
<path d="M550.2,240.0 L577.0,240.0 L573.6,250.0 L556.9,260.0 L546.9,266.7 L545.2,253.4Z" fill="#3b2222"/>
<path d="M407.0,553.6 L412.0,533.6 L423.7,516.9 L437.1,503.5 L450.5,493.5 L463.8,480.1 L477.2,470.1 L487.2,465.1 L493.9,473.4 L497.2,486.8 L493.9,503.5 L490.5,520.2 L483.9,533.6 L478.9,551.9 L470.5,563.6 L460.5,577.0 L447.1,583.7 L433.8,587.0 L423.7,583.7 L417.1,590.4 L407.0,597.0 L398.7,587.0 L403.7,567.0Z" fill="#3b2222"/>
<path d="M803.3,302.0 L810.0,297.0 L812.4,307.0 L806.7,313.7Z" fill="#3b2222"/>
<path d="M586.8,540.3 L596.8,532.0 L610.2,532.0 L615.2,540.3 L606.8,550.3 L591.8,548.7Z" fill="#3b2222"/>
<path d="M742.1,410.7 L750.5,408.4 L753.8,415.1 L745.5,417.4Z" fill="#3b2222"/>
<path d="M587.0,196.9 L593.7,176.8 L607.0,163.5 L620.4,159.5 L632.1,170.1 L635.4,186.8 L633.7,203.5 L628.7,220.3 L622.0,233.6 L607.0,237.6 L597.0,233.6 L587.0,240.3 L577.0,247.0 L568.6,254.3 L555.2,261.0 L543.5,267.7 L546.2,252.0 L558.6,235.3 L572.9,226.9 L583.0,220.3 L586.3,206.9Z" fill="#3b2222"/>
<path d="M671.8,135.2 L680.2,131.9 L688.5,133.5 L687.5,139.5 L680.2,141.9 L672.8,140.2Z" fill="#4c3434"/>
<path d="M270.1,553.6 L283.4,548.6 L306.8,551.9 L310.2,563.6 L296.8,570.3 L276.8,568.6Z" fill="#4c3434"/>
<path d="M320.2,553.6 L333.5,550.3 L340.2,560.3 L336.9,573.7 L325.2,575.3 L318.5,563.6Z" fill="#4c3434"/>
<path d="M177.0,210.1 L185.3,206.7 L190.4,216.8 L187.0,228.5 L178.7,225.1Z" fill="#4c3434"/>
<path d="M190.4,238.5 L207.1,236.8 L220.4,241.8 L233.8,241.8 L233.8,256.8 L223.8,266.9 L213.7,261.9 L207.1,250.2 L193.7,248.5Z" fill="#4c3434"/>
<path d="M0.0,285.0 L103.5,285.2 L116.9,296.9 L130.2,303.6 L136.9,317.0 L145.3,323.6 L167.0,327.0 L173.6,330.3 L167.0,343.7 L170.3,357.0 L180.3,363.7 L193.7,360.4 L205.4,357.0 L210.4,370.4 L207.0,383.8 L202.0,397.1 L207.0,403.8 L220.4,410.5 L240.4,400.5 L257.0,396.9 L267.1,391.9 L277.1,383.5 L285.0,380.0 L293.8,400.2 L280.4,410.2 L267.0,413.6 L263.7,426.9 L260.4,440.3 L263.7,453.6 L250.4,450.3 L240.4,457.0 L233.7,467.0 L230.3,480.4 L220.3,487.0 L210.3,497.1 L207.0,510.4 L203.6,527.1 L203.6,555.8 L200.4,553.7 L197.0,567.0 L195.4,580.4 L197.0,595.0 L150.0,620.0 L0.0,620.0Z" fill="#380707"/>
<path d="M227.1,590.4 L240.5,588.8 L248.9,600.5 L247.2,613.8 L233.8,612.2 L228.8,602.1Z" fill="#380707"/>
<path d="M290.1,617.1 L310.2,615.4 L313.5,624.4 L293.5,624.4Z" fill="#380707"/>
<path d="M640.1,81.8 L650.1,75.1 L666.8,79.4 L665.1,90.1 L650.1,90.8Z" fill="#380707"/>
<path d="M756.3,114.2 L763.7,110.1 L769.0,120.2 L760.3,122.8Z" fill="#380707"/>
<path d="M803.8,116.8 L817.1,116.8 L830.5,109.5 L837.8,106.1 L844.5,110.8 L846.5,121.8 L833.8,125.2 L817.1,120.8Z" fill="#380707"/>
<path d="M396.9,193.6 L406.9,191.9 L410.2,200.3 L403.5,207.0 L396.9,203.6Z" fill="#380707"/>
<path d="M542.4,214.0 L547.9,212.7 L549.2,219.0 L544.2,220.2Z" fill="#380707"/>
<path d="M103.4,376.8 L116.8,368.5 L133.5,371.8 L140.2,383.5 L133.5,395.2 L116.8,393.5 L105.1,388.5Z" fill="#3b2222"/>
<path d="M140.2,400.2 L153.5,395.2 L170.2,400.2 L176.9,413.6 L175.2,430.3 L160.2,433.6 L145.2,428.6 L140.2,413.6Z" fill="#3b2222"/>
<path d="M176.9,386.8 L190.3,383.5 L193.6,396.9 L183.6,403.5 L176.9,398.5Z" fill="#3b2222"/>
<path d="M143.5,463.7 L153.5,460.3 L158.5,473.7 L153.5,483.7 L145.2,480.4Z" fill="#3b2222"/>
<path d="M186.9,457.0 L197.0,455.3 L198.6,473.7 L190.3,477.0Z" fill="#3b2222"/>
<path d="M115.1,447.0 L126.8,443.6 L130.1,457.0 L128.5,477.0 L120.1,473.7 L113.4,460.3Z" fill="#3b2222"/>
<path d="M247.1,433.6 L260.4,430.3 L263.8,447.0 L253.7,450.3Z" fill="#3b2222"/>
<path d="M136.8,500.4 L156.9,497.1 L160.2,513.8 L143.5,517.1Z" fill="#3b2222"/>
<path d="M106.0,382.7 L114.4,368.1 L135.3,359.8 L147.8,362.9 L156.1,374.4 L154.1,386.9 L164.5,395.3 L168.7,412.0 L162.4,429.9 L143.6,429.9 L139.4,405.7 L126.9,397.3 L108.1,395.3Z" fill="#3b2222"/>
<path d="M164.5,341.0 L174.9,332.6 L177.0,349.3 L172.8,357.7 L166.6,353.5Z" fill="#3b2222"/>
<path d="M60.0,430.3 L73.4,433.6 L86.7,447.0 L100.1,457.0 L96.7,467.0 L83.4,463.7 L70.0,450.3 L60.0,443.6Z" fill="#480808"/>
<path d="M134.2,482.0 L142.8,480.4 L143.5,500.4 L138.5,508.8 L132.8,500.4Z" fill="#480808"/>
<path d="M159.5,457.0 L166.2,457.7 L166.9,475.4 L160.9,476.4Z" fill="#480808"/>
<path d="M80.0,467.0 L100.1,477.0 L120.1,497.1 L130.1,507.1 L126.8,513.8 L106.8,500.4 L86.7,483.7 L76.7,473.7Z" fill="#480808"/>
<path d="M465.3,202.0 L473.7,198.6 L482.0,207.0 L480.4,220.3 L473.7,227.0 L465.3,217.0Z" fill="#5a3f3f"/>
<path d="M505.4,200.3 L520.5,197.0 L533.8,200.3 L530.5,213.7 L513.8,217.0 L505.4,210.3Z" fill="#5a3f3f"/>
<path d="M666.4,245.2 L673.1,240.2 L679.8,243.5 L676.4,253.5 L668.7,252.9Z" fill="#5a3f3f"/>
<path d="M681.4,328.7 L691.4,332.0 L701.5,350.4 L698.1,354.4 L688.1,343.7Z" fill="#5a3f3f"/>
<path d="M553.4,527.0 L565.1,523.6 L570.1,532.0 L563.4,540.3 L553.4,538.6Z" fill="#5a3f3f"/>
<path d="M85.1,251.8 L91.8,250.2 L94.2,256.8 L88.5,260.2Z" fill="#5a3f3f"/>
<g fill="none" stroke="#1f4670" stroke-width="1.35" stroke-opacity="0.8" stroke-linejoin="round">
<path d="M670.5,246.7 L657.1,253.4 L645.4,255.0"/>
<path d="M610.4,293.4 L597.0,303.5 L592.0,310.1 L600.3,316.8 L605.3,326.8 L600.3,336.9 L590.3,338.5 L580.3,346.9 L570.3,355.2 L566.9,366.9 L568.6,380.3 L578.6,382.0 L566.9,387.0 L556.9,397.0 L560.3,407.0 L550.2,412.0 L546.9,420.4 L555.2,433.7 L566.9,443.8 L568.6,457.1 L563.6,470.5 L565.3,483.8 L568.6,495.9"/>
<path d="M501.8,240.0 L503.5,260.0 L506.8,276.7 L520.2,288.4 L530.2,290.1 L538.5,286.8 L543.5,300.1 L553.6,313.5 L558.6,330.2 L568.6,346.9 L570.3,355.2"/>
<path d="M575.3,240.0 L573.6,253.4 L550.2,266.7 L538.5,286.8"/>
<path d="M760.0,343.5 L740.6,350.2 L723.9,363.6 L707.2,380.3 L693.9,390.3 L673.8,403.7 L653.8,400.3 L633.7,402.0 L613.7,408.7 L597.0,405.3 L587.0,405.3 L580.3,417.0 L570.3,427.1 L568.6,443.8"/>
<path d="M807.4,383.6 L760.0,385.3 L740.6,390.3 L713.9,392.0 L693.9,390.3"/>
<path d="M673.8,403.7 L687.2,420.4 L700.5,437.1 L713.9,450.4 L718.9,467.1"/>
<path d="M177.0,193.4 L187.1,213.4 L200.4,226.8 L213.8,236.8 L230.5,246.8 L238.8,240.2"/>
<path d="M238.8,240.2 L220.5,256.9 L207.1,266.9 L197.1,280.3 L193.7,297.0 L173.7,302.0 L157.0,307.0 L143.6,320.3 L137.0,340.4 L123.6,357.1 L110.2,373.8 L83.5,387.1 L50.1,395.5 L33.4,403.8"/>
<path d="M193.7,297.0 L187.1,310.3 L185.4,323.7 L173.7,327.0 L170.4,347.1 L172.0,367.1 L167.0,387.1 L173.7,393.8"/>
<path d="M128.6,251.9 L150.3,251.9 L183.7,243.5 L200.4,248.5 L213.8,253.5"/>
<path d="M387.1,226.7 L397.1,231.7 L410.4,228.4 L420.5,231.7 L423.8,243.4 L420.5,260.1 L417.1,273.5 L413.8,286.8 L420.5,300.2 L413.8,313.6 L400.4,326.9 L397.1,340.3 L400.4,353.7 L407.1,367.0 L403.8,380.4 L400.4,400.4 L400.4,420.5 L407.1,440.5 L408.8,455.9"/>
<path d="M410.4,228.4 L427.1,233.4 L428.8,250.1 L423.8,266.8 L417.1,286.8 L423.8,303.5 L417.1,316.9 L407.1,330.3 L403.8,343.6 L405.4,357.0 L408.8,367.0"/>
<path d="M397.0,400.0 L400.4,420.0 L408.7,433.4 L410.4,446.7 L400.4,456.7 L390.3,461.8 L393.7,476.8 L400.4,490.1 L395.3,506.8 L397.0,516.9 L395.3,530.2 L400.4,543.6 L402.0,553.6 L397.0,567.0 L395.3,583.7 L393.7,593.7"/>
<path d="M336.9,435.0 L350.3,435.0 L358.6,446.7 L358.6,470.1 L361.9,490.1 L363.6,503.5 L377.0,508.5 L390.3,513.5 L397.0,516.9"/>
<path d="M230.0,513.5 L250.0,510.2 L273.4,511.9 L290.1,508.5 L303.5,501.8 L316.8,495.2 L326.9,483.5 L326.9,463.4 L336.9,435.0 L326.9,426.7 L313.5,420.0 L296.8,410.0"/>
<path d="M367.0,580.3 L377.0,560.3 L393.7,546.9 L400.4,543.6"/>
<path d="M50.1,406.7 L83.5,416.7 L110.2,413.4 L133.6,410.1 L147.0,393.4 L153.7,396.7 L160.3,430.1 L163.7,453.5 L177.0,443.5"/>
<path d="M63.5,430.1 L80.2,443.5 L86.8,463.5 L83.5,480.2"/>
<path d="M223.8,513.6 L247.2,511.9 L273.9,513.6 L300.6,503.6 L320.0,493.6"/>
<path d="M227.1,537.0 L233.8,557.0 L240.5,577.1 L253.9,593.8 L273.9,607.1 L293.9,617.2"/>
<path d="M636.7,83.4 L641.8,106.8 L640.1,133.5 L650.1,156.9 L660.1,180.3 L666.8,193.7 L683.5,200.3 L691.9,187.0 L710.2,182.0 L728.6,185.3 L733.6,166.9 L726.9,156.9 L743.6,133.5 L760.3,120.2"/>
<path d="M600.0,133.5 L620.0,131.9 L640.1,140.2"/>
<path d="M710.2,86.8 L700.2,116.8 L683.5,140.2 L671.8,160.3 L670.1,183.6 L666.8,193.7"/>
<path d="M733.6,156.9 L767.0,156.9 L800.4,140.2 L820.5,126.8"/>
<path d="M842.2,120.2 L847.2,150.2 L857.2,173.6 L877.2,197.0 L900.6,220.4"/>
<path d="M857.2,173.6 L873.9,178.6 L890.6,171.9"/>
<path d="M691.9,187.0 L683.5,213.7 L680.2,233.7 L666.8,250.4 L643.4,257.1"/>
<path d="M587.3,131.8 L600.6,135.2 L620.0,136.8"/>
<path d="M527.1,160.2 L533.8,183.6 L513.8,197.0 L502.1,207.0 L500.4,233.7 L503.8,267.1 L520.5,290.5 L538.8,287.1 L553.9,273.8 L567.2,260.4 L575.6,247.1 L567.2,210.3 L557.2,183.6 L547.2,160.2"/>
<path d="M538.8,287.1 L547.2,303.8 L553.9,315.9"/>
<path d="M563.4,470.2 L570.1,493.5 L570.1,516.9 L573.4,527.0 L560.1,537.0 L556.7,547.0 L553.4,557.0"/>
<path d="M573.4,535.3 L586.8,537.0 L600.2,543.7 L610.2,547.0"/>
<path d="M691.4,390.5 L724.8,357.1 L754.9,343.7 L785.0,332.0"/>
</g>
<path d="M176.9,435.3 L183.6,432.9 L191.9,431.9 L197.0,426.9 L207.0,428.6 L217.0,423.6 L227.0,420.3 L233.7,413.6 L243.7,410.2 L253.7,405.2 L260.4,400.2 L267.1,393.5 L277.1,386.8 L282.1,376.8 L290.5,380.2 L297.8,385.2 L298.8,393.5 L292.2,400.2 L283.8,405.2 L273.8,408.6 L263.8,411.9 L260.4,416.9 L250.4,421.9 L240.4,426.9 L230.4,431.9 L220.3,435.3 L210.3,442.0 L200.3,445.3 L190.3,443.6 L180.3,445.3 L176.9,442.0Z" fill="#004880"/>
<path d="M348.9,346.8 L355.6,342.8 L363.3,340.8 L362.3,345.1 L355.6,350.1 L349.9,352.8Z" fill="#004880"/>
<path d="M610.4,290.1 L617.0,286.8 L622.0,280.1 L627.1,266.7 L633.7,256.7 L638.7,251.7 L645.4,255.0 L642.1,263.4 L637.1,273.4 L630.4,283.4 L623.7,293.4 L617.0,295.1Z" fill="#004880"/>
<path d="M101.9,245.2 L104.2,242.8 L106.9,246.2 L105.6,251.9 L102.2,250.9Z" fill="#004880"/>
<path d="M552.7,514.3 L556.7,511.9 L560.1,516.3 L558.1,521.9 L553.4,520.9Z" fill="#004880"/>
</g>
<use href="#hu" fill="none" stroke="#322c2c" stroke-width="1.5" stroke-opacity="0.85" stroke-linejoin="round"/>
<text class="t" x="38" y="47.5" textLength="589" lengthAdjust="spacing">Középhőmérséklet eltérése az 1991-2020-as átlagtól [°C]</text>
<text class="t" x="38" y="77.7" textLength="449" lengthAdjust="spacing">Temperature anomaly relative to 1991-2020</text>
<text class="t" x="786" y="47.5" textLength="135.5" lengthAdjust="spacing">2024. február</text>
<g>
<rect x="237.1" y="650.2" width="696.0" height="17.8" fill="#222"/>
<rect x="237.80" y="651.2" width="16.00" height="15.8" fill="#ffccff"/>
<rect x="255.20" y="651.2" width="16.00" height="15.8" fill="#ffb3ff"/>
<rect x="272.60" y="651.2" width="16.00" height="15.8" fill="#f780f7"/>
<rect x="290.00" y="651.2" width="16.00" height="15.8" fill="#ee55ee"/>
<rect x="307.40" y="651.2" width="16.00" height="15.8" fill="#dd33ee"/>
<rect x="324.80" y="651.2" width="16.00" height="15.8" fill="#bb11ee"/>
<rect x="342.20" y="651.2" width="16.00" height="15.8" fill="#9900ff"/>
<rect x="359.60" y="651.2" width="16.00" height="15.8" fill="#6600cc"/>
<rect x="377.00" y="651.2" width="16.00" height="15.8" fill="#440088"/>
<rect x="394.40" y="651.2" width="16.00" height="15.8" fill="#000044"/>
<rect x="411.80" y="651.2" width="16.00" height="15.8" fill="#000066"/>
<rect x="429.20" y="651.2" width="16.00" height="15.8" fill="#000099"/>
<rect x="446.60" y="651.2" width="16.00" height="15.8" fill="#0000cc"/>
<rect x="464.00" y="651.2" width="16.00" height="15.8" fill="#0033ff"/>
<rect x="481.40" y="651.2" width="16.00" height="15.8" fill="#1166ff"/>
<rect x="498.80" y="651.2" width="16.00" height="15.8" fill="#007799"/>
<rect x="516.20" y="651.2" width="16.00" height="15.8" fill="#00aaaa"/>
<rect x="533.60" y="651.2" width="16.00" height="15.8" fill="#00cccc"/>
<rect x="551.00" y="651.2" width="16.00" height="15.8" fill="#00e6e6"/>
<rect x="568.40" y="651.2" width="16.00" height="15.8" fill="#00ffff"/>
<rect x="585.80" y="651.2" width="16.00" height="15.8" fill="#88ffff"/>
<rect x="603.20" y="651.2" width="16.00" height="15.8" fill="#f2f2f2"/>
<rect x="620.60" y="651.2" width="16.00" height="15.8" fill="#f2f2f2"/>
<rect x="638.00" y="651.2" width="16.00" height="15.8" fill="#ffcc99"/>
<rect x="655.40" y="651.2" width="16.00" height="15.8" fill="#ffaa55"/>
<rect x="672.80" y="651.2" width="16.00" height="15.8" fill="#ff8c26"/>
<rect x="690.20" y="651.2" width="16.00" height="15.8" fill="#ff7700"/>
<rect x="707.60" y="651.2" width="16.00" height="15.8" fill="#e66a00"/>
<rect x="725.00" y="651.2" width="16.00" height="15.8" fill="#cc5500"/>
<rect x="742.40" y="651.2" width="16.00" height="15.8" fill="#ff3a00"/>
<rect x="759.80" y="651.2" width="16.00" height="15.8" fill="#e60a0a"/>
<rect x="777.20" y="651.2" width="16.00" height="15.8" fill="#c40c0c"/>
<rect x="794.60" y="651.2" width="16.00" height="15.8" fill="#a00808"/>
<rect x="812.00" y="651.2" width="16.00" height="15.8" fill="#7a0505"/>
<rect x="829.40" y="651.2" width="16.00" height="15.8" fill="#5a0505"/>
<rect x="846.80" y="651.2" width="16.00" height="15.8" fill="#3f0808"/>
<rect x="864.20" y="651.2" width="16.00" height="15.8" fill="#4a2a2a"/>
<rect x="881.60" y="651.2" width="16.00" height="15.8" fill="#5a3d3d"/>
<rect x="899.00" y="651.2" width="16.00" height="15.8" fill="#6b4f4f"/>
<rect x="916.40" y="651.2" width="16.00" height="15.8" fill="#6b5b5b"/>
<rect x="237.1" y="650.2" width="696.0" height="17.8" fill="none" stroke="#1a1a1a" stroke-width="1.3"/>
<line x1="254.5" y1="668.0" x2="254.5" y2="673.5" stroke="#1a1a1a" stroke-width="1.2"/>
<text class="lg" x="254.5" y="684.3">-10</text>
<line x1="324.1" y1="668.0" x2="324.1" y2="673.5" stroke="#1a1a1a" stroke-width="1.2"/>
<text class="lg" x="324.1" y="684.3">-8</text>
<line x1="393.7" y1="668.0" x2="393.7" y2="673.5" stroke="#1a1a1a" stroke-width="1.2"/>
<text class="lg" x="393.7" y="684.3">-6</text>
<line x1="463.3" y1="668.0" x2="463.3" y2="673.5" stroke="#1a1a1a" stroke-width="1.2"/>
<text class="lg" x="463.3" y="684.3">-4</text>
<line x1="532.9" y1="668.0" x2="532.9" y2="673.5" stroke="#1a1a1a" stroke-width="1.2"/>
<text class="lg" x="532.9" y="684.3">-2</text>
<line x1="585.1" y1="668.0" x2="585.1" y2="673.5" stroke="#1a1a1a" stroke-width="1.2"/>
<text class="lg" x="585.1" y="684.3">-0.5</text>
<line x1="619.9" y1="668.0" x2="619.9" y2="673.5" stroke="#1a1a1a" stroke-width="1.2"/>
<text class="lg" x="619.9" y="684.3">0</text>
<line x1="654.7" y1="668.0" x2="654.7" y2="673.5" stroke="#1a1a1a" stroke-width="1.2"/>
<text class="lg" x="654.7" y="684.3">0.5</text>
<line x1="706.9" y1="668.0" x2="706.9" y2="673.5" stroke="#1a1a1a" stroke-width="1.2"/>
<text class="lg" x="706.9" y="684.3">2</text>
<line x1="776.5" y1="668.0" x2="776.5" y2="673.5" stroke="#1a1a1a" stroke-width="1.2"/>
<text class="lg" x="776.5" y="684.3">4</text>
<line x1="846.1" y1="668.0" x2="846.1" y2="673.5" stroke="#1a1a1a" stroke-width="1.2"/>
<text class="lg" x="846.1" y="684.3">6</text>
<line x1="915.7" y1="668.0" x2="915.7" y2="673.5" stroke="#1a1a1a" stroke-width="1.2"/>
<text class="lg" x="915.7" y="684.3">8</text>
</g>
<g fill="none" stroke="url(#lgr)" stroke-width="1.6" stroke-linecap="butt">
<path d="M64.49,667.63 L63.03,667.42 L61.59,667.06 L60.21,666.55 L58.88,665.90 L57.62,665.12 L56.46,664.20 L55.40,663.17 L54.45,662.03 L53.63,660.80 L52.94,659.49 L52.40,658.12 L52.00,656.70 L51.75,655.24 L51.65,653.76 L51.72,652.28 L51.93,650.82 L52.30,649.39 L52.82,648.00 L53.48,646.68 L54.28,645.43 L55.20,644.27 L56.24,643.22 L57.38,642.28 L58.62,641.47 L59.93,640.79 L61.31,640.25 L62.74,639.86 L64.20,639.63 L65.67,639.54 L67.15,639.62 L68.61,639.84 L70.04,640.22 L71.42,640.75 L72.74,641.42 L73.98,642.23 L75.13,643.16"/>
<path d="M61.49,669.38 L59.85,668.85 L58.26,668.14 L56.76,667.26 L55.37,666.24 L54.09,665.07 L52.94,663.77 L51.93,662.36 L51.08,660.84 L50.40,659.25 L49.89,657.59 L49.55,655.89 L49.40,654.16 L49.43,652.43 L49.65,650.71 L50.05,649.02 L50.63,647.39 L51.37,645.82 L52.28,644.34 L53.34,642.97 L54.54,641.71 L55.86,640.60 L57.30,639.62 L58.83,638.81 L60.44,638.16 L62.10,637.69 L63.81,637.39 L65.54,637.28 L67.28,637.36 L68.99,637.61 L70.67,638.05 L72.29,638.66 L73.84,639.44 L75.30,640.39 L76.65,641.48"/>
<path d="M57.86,670.46 L56.10,669.52 L54.45,668.40 L52.93,667.10 L51.56,665.65 L50.35,664.06 L49.32,662.36 L48.47,660.55 L47.83,658.66 L47.39,656.71 L47.16,654.73 L47.15,652.73 L47.35,650.74 L47.77,648.79 L48.39,646.89 L49.21,645.07 L50.22,643.35 L51.41,641.75 L52.76,640.28 L54.27,638.97 L55.90,637.82 L57.65,636.86 L59.50,636.09 L61.41,635.53 L63.37,635.17 L65.37,635.02 L67.36,635.09 L69.34,635.38 L71.27,635.87 L73.14,636.57 L74.93,637.46 L76.61,638.54 L78.16,639.80"/>
<path d="M53.76,670.69 L52.03,669.34 L50.46,667.81 L49.05,666.13 L47.82,664.31 L46.80,662.37 L45.98,660.33 L45.39,658.22 L45.01,656.06 L44.87,653.87 L44.96,651.68 L45.28,649.51 L45.82,647.38 L46.59,645.32 L47.56,643.36 L48.74,641.51 L50.11,639.79 L51.65,638.23 L53.34,636.83 L55.17,635.62 L57.12,634.62 L59.17,633.82 L61.28,633.24 L63.45,632.88 L65.64,632.76 L67.83,632.87 L70.00,633.20 L72.12,633.77 L74.17,634.55 L76.13,635.54 L77.97,636.74 L79.67,638.12"/>
<path d="M49.38,669.95 L47.73,668.12 L46.29,666.13 L45.07,663.99 L44.09,661.74 L43.34,659.39 L42.86,656.98 L42.63,654.53 L42.66,652.07 L42.96,649.62 L43.51,647.23 L44.31,644.90 L45.36,642.67 L46.64,640.57 L48.13,638.62 L49.83,636.83 L51.70,635.24 L53.73,633.85 L55.90,632.69 L58.18,631.76 L60.55,631.09 L62.97,630.66 L65.43,630.50 L67.89,630.60 L70.32,630.96 L72.70,631.58 L75.01,632.45 L77.20,633.55 L79.27,634.89 L81.19,636.44"/>
<path d="M44.94,668.16 L43.49,665.84 L42.30,663.37 L41.39,660.79 L40.75,658.13 L40.41,655.41 L40.37,652.68 L40.61,649.95 L41.15,647.27 L41.98,644.66 L43.08,642.15 L44.45,639.78 L46.06,637.57 L47.91,635.54 L49.96,633.73 L52.19,632.15 L54.58,630.81 L57.10,629.75 L59.73,628.96 L62.42,628.45 L65.15,628.24 L67.88,628.33 L70.59,628.71 L73.25,629.38 L75.82,630.33 L78.26,631.56 L80.57,633.04 L82.70,634.76"/>
<path d="M40.68,665.29 L39.59,662.59 L38.79,659.79 L38.29,656.92 L38.09,654.02 L38.20,651.11 L38.62,648.23 L39.33,645.41 L40.34,642.68 L41.63,640.07 L43.19,637.61 L45.00,635.33 L47.04,633.25 L49.28,631.40 L51.71,629.79 L54.30,628.45 L57.01,627.39 L59.81,626.62 L62.68,626.14 L65.59,625.98 L68.50,626.12 L71.38,626.56 L74.19,627.31 L76.91,628.34 L79.51,629.66 L81.95,631.24 L84.21,633.08"/>
<path d="M36.85,661.35 L36.18,658.22 L35.86,655.05 L35.88,651.85 L36.24,648.68 L36.93,645.56 L37.95,642.53 L39.30,639.63 L40.94,636.89 L42.86,634.35 L45.05,632.02 L47.47,629.93 L50.10,628.12 L52.91,626.60 L55.87,625.39 L58.93,624.50 L62.08,623.94 L65.26,623.72 L68.46,623.84 L71.62,624.30 L74.71,625.10 L77.70,626.22 L80.56,627.66 L83.24,629.39 L85.72,631.39"/>
<path d="M71.09,659.70 L70.75,660.50 L70.32,661.26 L69.82,661.97 L69.25,662.62 L68.61,663.21 L67.91,663.73 L67.17,664.17 L66.37,664.53 L65.55,664.81 L64.70,664.99 L63.84,665.09 L62.97,665.09 L62.10,665.00 L61.25,664.82"/>
<path d="M75.42,644.31 L77.19,646.29 L78.74,648.45 L80.05,650.76 L81.10,653.20 L81.88,655.73 L82.37,658.34 L82.59,660.99 L82.52,663.64 L82.16,666.27 L81.51,668.85 L80.60,671.34 L79.42,673.71 L77.98,675.95 L76.32,678.02 L74.44,679.89 L72.37,681.55 L70.13,682.98 L67.75,684.16 L65.26,685.07"/>
<path d="M75.09,640.60 L77.17,642.47 L79.03,644.56 L80.66,646.83 L82.03,649.26 L83.14,651.82 L83.97,654.49 L84.51,657.23 L84.75,660.02 L84.70,662.81 L84.34,665.58 L83.69,668.30 L82.76,670.93 L81.54,673.45 L80.07,675.83 L78.35,678.03 L76.41,680.04 L74.26,681.82 L71.93,683.37 L69.45,684.66 L66.85,685.68 L64.15,686.41 L61.39,686.85"/>
<path d="M74.32,636.90 L76.70,638.63 L78.88,640.60 L80.84,642.79 L82.55,645.18 L84.00,647.73 L85.18,650.42 L86.06,653.23 L86.64,656.11 L86.91,659.03 L86.88,661.97 L86.53,664.89 L85.87,667.75 L84.91,670.53 L83.67,673.19 L82.15,675.71 L80.37,678.05 L78.35,680.19 L76.12,682.10 L73.70,683.76 L71.11,685.16 L68.40,686.28 L65.58,687.11 L62.68,687.63 L59.75,687.84 L56.82,687.74"/>
<path d="M73.10,633.27 L75.78,634.81 L78.27,636.63 L80.56,638.70 L82.62,641.00 L84.43,643.50 L85.96,646.18 L87.21,649.00 L88.15,651.94 L88.77,654.96 L89.08,658.03 L89.06,661.12 L88.71,664.18 L88.05,667.20 L87.07,670.13 L85.79,672.93 L84.22,675.59 L82.38,678.07 L80.29,680.34 L77.97,682.38 L75.45,684.16 L72.76,685.67 L69.92,686.89 L66.98,687.80 L63.95,688.40 L60.88,688.67 L57.79,688.62 L54.73,688.25 L51.72,687.56"/>
<path d="M71.44,629.77 L74.40,631.09 L77.20,632.71 L79.82,634.61 L82.22,636.77 L84.39,639.18 L86.29,641.80 L87.91,644.60 L89.22,647.55 L90.22,650.63 L90.90,653.80 L91.23,657.01 L91.23,660.25 L90.90,663.47 L90.22,666.63 L89.22,669.71 L87.91,672.66 L86.29,675.47 L84.39,678.08 L82.22,680.49 L79.82,682.65 L77.20,684.56 L74.40,686.17 L71.44,687.49 L68.37,688.49 L65.20,689.16 L61.98,689.50 L58.75,689.50 L55.53,689.16 L52.37,688.49 L49.29,687.49 L46.33,686.17"/>
<path d="M69.35,626.47 L72.66,627.56 L75.85,628.99 L78.86,630.75 L81.66,632.83 L84.22,635.20 L86.52,637.82 L88.52,640.68 L90.21,643.74 L91.56,646.95 L92.55,650.30 L93.18,653.73 L93.44,657.21 L93.32,660.70 L92.84,664.15 L91.98,667.53 L90.77,670.80 L89.21,673.93 L87.33,676.86 L85.14,679.58 L82.68,682.05 L79.96,684.24 L77.03,686.13 L73.91,687.69 L70.64,688.91 L67.25,689.77 L63.80,690.27 L60.31,690.39 L56.83,690.13 L53.40,689.51 L50.06,688.52 L46.84,687.18 L43.78,685.50 L40.92,683.50"/>
<path d="M66.84,623.43 L70.39,624.19 L73.85,625.33 L77.16,626.82 L80.30,628.66 L83.23,630.82 L85.90,633.29 L88.30,636.02 L90.40,638.99 L92.16,642.17 L93.58,645.52 L94.63,649.00 L95.31,652.58 L95.60,656.20 L95.51,659.84 L95.03,663.44 L94.16,666.98 L92.93,670.40 L91.34,673.67 L89.41,676.75 L87.16,679.61 L84.62,682.21 L81.82,684.53 L78.79,686.54 L75.56,688.21 L72.17,689.53 L68.66,690.48 L65.07,691.06 L61.43,691.24 L57.80,691.04 L54.21,690.46 L50.71,689.49 L47.32,688.16 L44.10,686.47 L41.08,684.45 L38.28,682.12 L35.75,679.51"/>
</g>
</svg>
<div class="cap" style="top:719px;line-height:23px;">2. ábra</div>
<div class="cap" style="top:742.5px;line-height:23px;">Középhőmérsékleti anomália az 1991-2020-as átlaghoz viszonyítva</div>
</body></html>
